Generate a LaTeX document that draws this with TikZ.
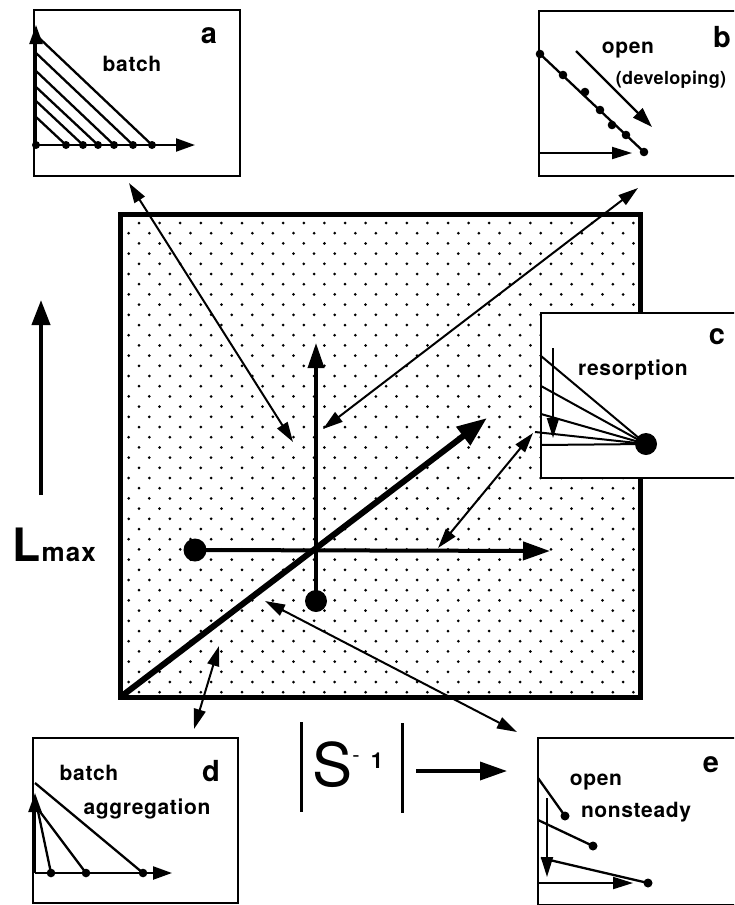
\documentclass[tikz,border=0pt]{standalone}
\usepackage{fontspec}
\setmainfont{TeX Gyre Heros}
\usetikzlibrary{arrows.meta}
\begin{document}
\begin{tikzpicture}[x=1pt,y=-1pt,
  box/.style={draw,line width=2.5pt,fill=white},
  txt/.style={font=\fontsize{21}{21}\selectfont\bfseries\addfontfeature{LetterSpace=3},inner sep=0pt},
  stxt/.style={font=\fontsize{18}{18}\selectfont\bfseries\addfontfeature{LetterSpace=2},inner sep=0pt},
  letter/.style={font=\fontsize{29}{29}\selectfont\bfseries,inner sep=0pt},
  ax/.style={line width=2.3pt,-{Triangle[length=19pt,width=13pt]}},
  thin/.style={line width=2pt},
  dbl/.style={line width=2pt,{Triangle[length=20pt,width=12pt]}-{Triangle[length=20pt,width=12pt]}},
  bigax/.style={line width=4pt,-{Triangle[length=27pt,width=18pt]}},
]
\useasboundingbox (0,0) rectangle (734,905);
\clip (0,0) rectangle (734,905);

% dotted field
\foreach \r in {0,...,46}{
  \foreach \c in {0,...,24}{
    \fill ({139-10.3*mod(\r,2)+20.6*\c},{223+10.2*\r}) circle (1.5pt);
  }
}
% main square
\draw[line width=5pt] (120.5,214.5) rectangle (640.5,697);
\coordinate (SW) at (120.5,697);

% box c
\draw[box] (541,313) rectangle (760,478);
\node[letter] (lc) at (717,337) {c};
\node[txt] (tc) at (633,370) {resorption};
\fill (646,444) circle (11pt) coordinate (cdot);
\coordinate (c1) at (541,356);
\coordinate (c2) at (541,386);
\coordinate (c3) at (541,414);
\coordinate (c4) at (535,432);
\coordinate (c5) at (541,445);
\foreach \p in {c1,c2,c3,c4,c5}{\draw[thin] (\p) -- (cdot);}
\coordinate (cv0) at (553,348);
\coordinate (cv1) at (553,438);
\draw[line width=2pt,-{Triangle[length=20pt,width=12pt]}] (cv0) -- (cv1);

% main axes
\coordinate (O) at (314,551);
\fill (195,550) circle (11.5pt) coordinate (hdot);
\coordinate (htip) at (550,551);
\draw[bigax] (hdot) -- (htip);
\fill (316,601) circle (11pt) coordinate (vdot);
\coordinate (vtip) at (316,343);
\draw[line width=3.5pt,-{Triangle[length=25pt,width=16pt]}] (vdot) -- (vtip);
\coordinate (dtip) at (487,418);
\draw[line width=6pt,-{Triangle[length=30pt,width=22pt]}] (SW) -- (dtip);

% connectors
\coordinate (a1) at (129,183); \coordinate (a2) at (293,442);
\draw[dbl] (a1) -- (a2);
\coordinate (b1) at (638,188); \coordinate (b2) at (323,429);
\draw[dbl] (b1) -- (b2);
\coordinate (k1) at (533,433); \coordinate (k2) at (438,548);
\draw[dbl] (k1) -- (k2);
\coordinate (d1) at (219,646); \coordinate (d2) at (194,729);
\draw[dbl] (d1) -- (d2);
\coordinate (e1) at (265,601); \coordinate (e2) at (517,732);
\draw[dbl] (e1) -- (e2);

% box a
\draw[box] (34,10) rectangle (240,176);
\node[letter] (la) at (209,36) {a};
\node[txt] (ta) at (132,64) {batch};
\coordinate (aO) at (36,145);
\draw[ax] (aO) -- (36,25);
\draw[ax] (aO) -- (195,145);
\foreach \x/\y in {152/35,133/53,114/71,98/87,83/101,66/117}{
  \draw[line width=2.3pt] (36,\y) -- (\x,145);
  \fill (\x,145) circle (4pt);
}
\fill (aO) circle (4pt);

% box b
\draw[box] (539,11) rectangle (760,176);
\node[letter] (lb) at (722,37) {b};
\node[txt] (tb) at (628,50) {open};
\node[stxt] (tb2) at (671,80) {(developing)};
\coordinate (bs) at (540,54); \coordinate (be) at (644,152);
\draw[line width=2.3pt] (bs) -- (be);
\foreach \x/\y in {540/54,563/75,585/92,600/110,612/125,626/135,644/152}{\fill (\x,\y) circle (4.3pt);}
\coordinate (ba0) at (576,51); \coordinate (ba1) at (652,127);
\draw[line width=2.3pt,-{Triangle[length=20pt,width=13pt]}] (ba0) -- (ba1);
\coordinate (bh0) at (539,153); \coordinate (bh1) at (632,153);
\draw[line width=2pt,-{Triangle[length=20pt,width=12pt]}] (bh0) -- (bh1);

% box d
\draw[box] (33,738) rectangle (238,903);
\node[letter] (ld) at (211,771) {d};
\node[txt] (td1) at (89,773) {batch};
\node[txt] (td2) at (147,809) {aggregation};
\coordinate (dO) at (35,873);
\draw[ax] (dO) -- (35,793);
\draw[ax] (dO) -- (172,873);
\draw[line width=2.3pt] (35,783) -- (143,873);
\draw[line width=2.3pt] (35,805) -- (86,873);
\draw[line width=2.3pt] (35,797) -- (51,873);
\foreach \x in {51,86,143}{\fill (\x,873) circle (4.3pt);}

% box e
\draw[box] (538,738) rectangle (760,905);
\node[letter] (le) at (711,765) {e};
\node[txt] (te1) at (596,782) {open};
\node[txt] (te2) at (636,812) {nonsteady};
\draw[line width=2.3pt] (538,778) -- (565,816);
\draw[line width=2.3pt] (538,820) -- (593,846);
\draw[line width=2.3pt] (541,858) -- (648,883);
\foreach \x/\y in {565/816,593/846,648/883}{\fill (\x,\y) circle (4.5pt);}
\draw[line width=2pt,-{Triangle[length=20pt,width=12pt]}] (547,798) -- (547,877);
\draw[line width=2pt,-{Triangle[length=20pt,width=12pt]}] (538,883) -- (633,883);

% L max
\coordinate (L0) at (41,495); \coordinate (L1) at (41,300);
\draw[line width=4pt,-{Triangle[length=25pt,width=18pt]}] (L0) -- (L1);
\node[font=\fontsize{46}{46}\selectfont\bfseries,inner sep=0pt,anchor=base west] (Lm) at (12,561) {L};
\node[font=\fontsize{26}{26}\selectfont\bfseries\addfontfeature{LetterSpace=4},inner sep=0pt,anchor=base west] (mx) at ([xshift=1pt]Lm.base east) {max};

% |S^-1|
\draw[line width=3pt] (301,722) -- (301,812);
\draw[line width=3pt] (402,723) -- (402,813);
\node[font=\fontsize{60}{60}\selectfont,inner sep=0pt] (S) at (333,765) {S};
\node[font=\fontsize{22}{22}\selectfont,inner sep=0pt] (m1) at (356,759) {-};
\node[font=\fontsize{22}{22}\selectfont\bfseries,inner sep=0pt] (one) at (377,761) {1};
\coordinate (s0) at (416,771); \coordinate (s1) at (507,771);
\draw[line width=3.5pt,-{Triangle[length=27pt,width=18pt]}] (s0) -- (s1);
\end{tikzpicture}
\end{document}
